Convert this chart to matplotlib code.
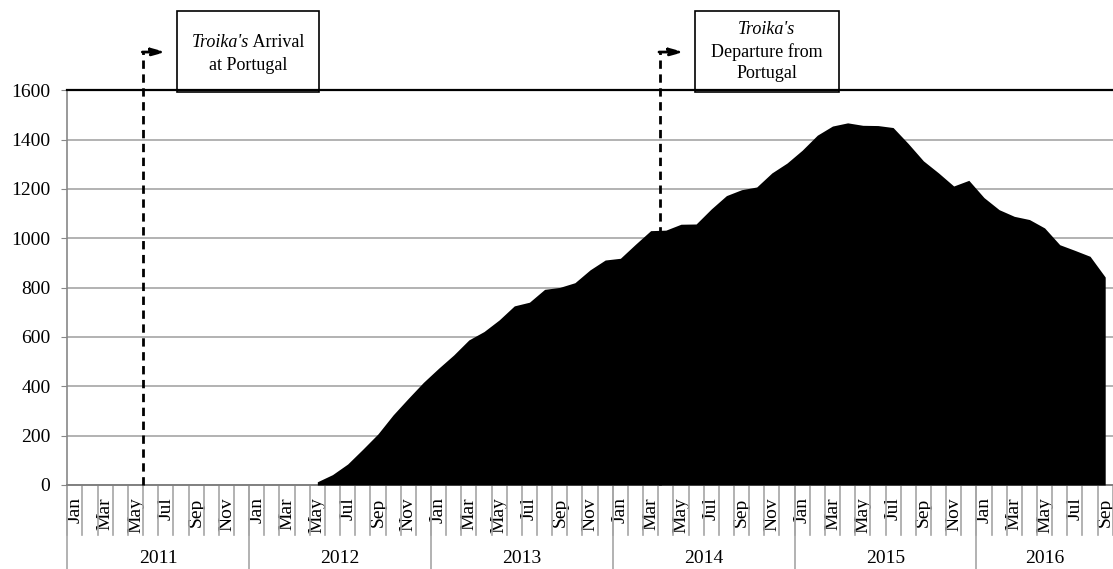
import numpy as np
import matplotlib
matplotlib.use('Agg')
import matplotlib.pyplot as plt
from matplotlib.patches import Rectangle
from matplotlib.transforms import offset_copy

plt.rcParams['font.family'] = ['Liberation Serif', 'DejaVu Serif']

# ---------------------- data ----------------------
years = ['2011', '2012', '2013', '2014', '2015', '2016']
months_per_year = [12, 12, 12, 12, 12, 9]
month_names = ['Jan', 'Feb', 'Mar', 'Apr', 'May', 'Jun',
               'Jul', 'Aug', 'Sep', 'Oct', 'Nov', 'Dec']

# Jan 2011 .. Apr 2012: no data
empty_months = 16
# May 2012 .. Sep 2016
values = [13, 42, 85, 145, 207, 284, 351, 416,                  # 2012 May-Dec
          473, 527, 588, 622, 669, 726, 741, 793, 801, 820, 872, 912,   # 2013
          919, 976, 1031, 1033, 1057, 1058, 1119, 1173, 1197, 1208, 1265, 1305,  # 2014
          1357, 1418, 1455, 1468, 1458, 1457, 1449, 1384, 1314, 1265, 1212, 1235,  # 2015
          1165, 1116, 1089, 1076, 1042, 974, 951, 927, 843]      # 2016 Jan-Sep

arrival_x = 4.5     # between May and Jun 2011
departure_x = 38.6  # just after Mar 2014

# ---------------------- figure ----------------------
fig = plt.figure(figsize=(11.13, 5.69), dpi=100)
ax = fig.add_axes([0.0605, 0.14763, 0.9393, 0.6937])

n = sum(months_per_year)
x = np.arange(n)
y = np.array([np.nan] * empty_months + values, dtype=float)

ax.fill_between(x, 0, y, color='black', linewidth=0, zorder=3)

ax.set_xlim(-0.5, n - 0.5)
ax.set_ylim(0, 1600)
ax.set_yticks(range(0, 1601, 200))
ax.yaxis.grid(True, color='#a6a6a6', linewidth=1.2, zorder=0)
ax.set_axisbelow(True)
ax.tick_params(axis='y', labelsize=14, length=4, color='#888888', pad=8.2)

# month tick labels (every other month)
labels = []
for cnt in months_per_year:
    for k in range(cnt):
        labels.append(month_names[k] if k % 2 == 0 else '')
ax.set_xticks(x)
ax.set_xticklabels(labels, rotation=90, fontsize=14, va='top', ha='center')
ax.tick_params(axis='x', length=0, pad=9)

ax.spines['right'].set_visible(False)
ax.spines['top'].set_color('black')
ax.spines['top'].set_linewidth(1.6)
ax.spines['left'].set_color('#888888')
ax.spines['left'].set_linewidth(1.2)
ax.spines['bottom'].set_color('#808080')
ax.spines['bottom'].set_linewidth(1.4)

# separators under the axis
tr = ax.get_xaxis_transform()
for b in np.arange(n + 1) - 0.5:
    ax.plot([b, b], [0, -0.127], color='#a6a6a6', linewidth=1.2,
            transform=tr, clip_on=False)
start = 0
for yr, cnt in zip(years, months_per_year):
    ax.plot([start - 0.5, start - 0.5], [0, -0.25], color='#a6a6a6',
            linewidth=1.2, transform=tr, clip_on=False)
    ax.text(start + (cnt - 1) / 2, -0.185, yr, transform=tr, fontsize=14,
            ha='center', va='center')
    start += cnt

# ---------------------- troika annotations ----------------------
top_y = 1755
for xv, head in [(arrival_x, 6.0), (departure_x, 40.2)]:
    ax.plot([xv, xv], [0, top_y], color='black', linewidth=2,
            linestyle=(0, (3, 2)), clip_on=False, zorder=5)
    ax.annotate('', xy=(head, top_y), xytext=(xv - 0.05, top_y),
                arrowprops=dict(arrowstyle='-|>,head_length=0.8,head_width=0.22',
                                color='black', linewidth=2,
                                linestyle=(0, (3, 2)), shrinkA=0, shrinkB=0),
                annotation_clip=False, zorder=5)

box_kw = dict(fill=False, edgecolor='black', linewidth=1.2, clip_on=False)
ax.add_patch(Rectangle((6.75, 1593), 16.1 - 6.75, 1921 - 1593, **box_kw))
ax.add_patch(Rectangle((40.9, 1593), 50.4 - 40.9, 1921 - 1593, **box_kw))

fs = 13

# line with italic + roman parts, centred on x
it_part = ax.text(11.41, 1792, "Troika's", style='italic', fontsize=fs,
                  ha='left', va='center', clip_on=False)
rm_part = ax.text(11.41, 1792, " Arrival", fontsize=fs,
                  ha='left', va='center', clip_on=False)
ax.text(11.41, 1699, 'at Portugal', fontsize=fs, ha='center', va='center')

ax.text(45.65, 1845, "Troika's", style='italic', fontsize=fs,
        ha='center', va='center')
ax.text(45.65, 1755, 'Departure from', fontsize=fs, ha='center', va='center')
ax.text(45.65, 1670, 'Portugal', fontsize=fs, ha='center', va='center')

fig.canvas.draw()
r = fig.canvas.get_renderer()
w1 = it_part.get_window_extent(r).width
w2 = rm_part.get_window_extent(r).width
it_part.set_transform(offset_copy(ax.transData, fig=fig, x=-(w1 + w2) / 2, units='dots'))
rm_part.set_transform(offset_copy(ax.transData, fig=fig, x=-(w1 + w2) / 2 + w1, units='dots'))

fig.savefig('out.png', dpi=100)
